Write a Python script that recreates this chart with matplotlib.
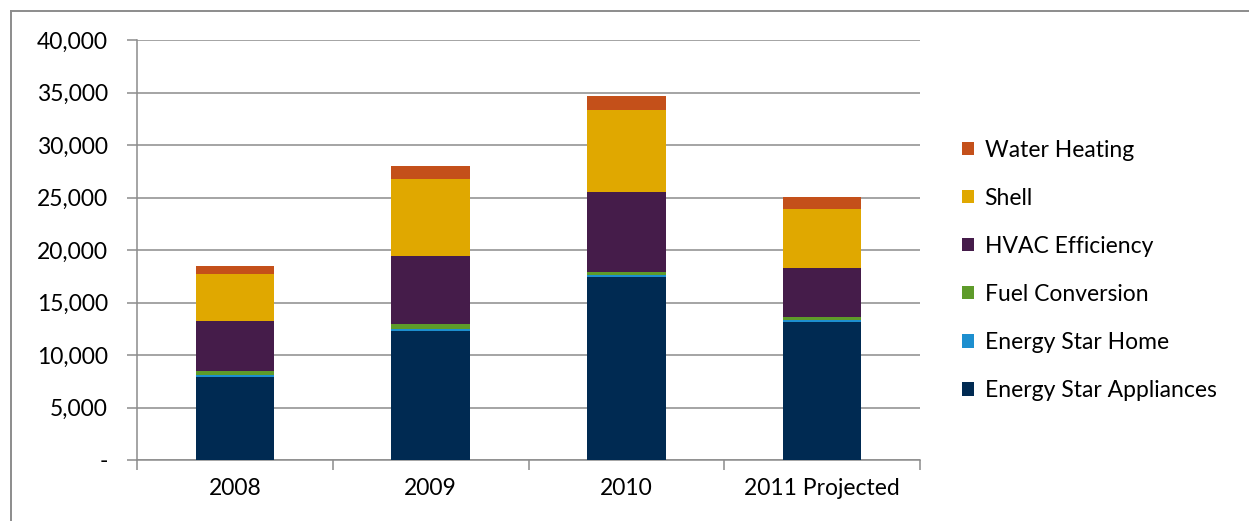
import matplotlib
matplotlib.use("Agg")
import matplotlib.pyplot as plt
import numpy as np
from matplotlib.lines import Line2D
from matplotlib.ticker import FuncFormatter, FixedLocator

plt.rcParams.update({
    "font.family": ["Lato", "DejaVu Sans"],
    "font.size": 16.5,
})

years = ["2008", "2009", "2010", "2011 Projected"]
appliances = [7900, 12300, 17400, 13150]
star_home = [200, 200, 200, 200]
fuel_conv = [400, 450, 300, 300]
hvac = [4750, 6480, 7620, 4640]
shell = [4450, 7330, 7810, 5610]
water = [800, 1240, 1340, 1150]

series = [
    ("Energy Star Appliances", appliances, "#002A52"),
    ("Energy Star Home", star_home, "#1D8FCF"),
    ("Fuel Conversion", fuel_conv, "#5E9B2A"),
    ("HVAC Efficiency", hvac, "#451C4A"),
    ("Shell", shell, "#E0A800"),
    ("Water Heating", water, "#C4501A"),
]

W, H = 1249, 521
fig = plt.figure(figsize=(W / 100, H / 100), dpi=100)
# chart frame: only the top and left edges fall inside the image
fig.lines.append(Line2D([10.5 / W, 10.5 / W], [0, 1 - 10.5 / H], transform=fig.transFigure,
                        color="#8C8C8C", linewidth=1.4))
fig.lines.append(Line2D([10.5 / W, 1], [1 - 10.5 / H, 1 - 10.5 / H], transform=fig.transFigure,
                        color="#8C8C8C", linewidth=1.4))

ax = fig.add_axes([137 / W, 61 / H, 783 / W, 420 / H])

x = np.arange(len(years))
bottom = np.zeros(len(years))
for name, vals, col in series:
    ax.bar(x, vals, 0.4, bottom=bottom, color=col, label=name, zorder=3)
    bottom += np.array(vals)

ax.set_xlim(-0.5, len(years) - 0.5)
ax.set_ylim(0, 40000)
ax.set_yticks(np.arange(0, 40001, 5000))
ax.yaxis.set_major_formatter(FuncFormatter(lambda v, p: "-" if v == 0 else f"{v:,.0f}"))
ax.grid(axis="y", color="#8C8C8C", linewidth=1.1, zorder=0)

ax.set_xticks(x)
ax.set_xticklabels(years)
ax.xaxis.set_minor_locator(FixedLocator(np.arange(-0.5, len(years), 1.0)))
ax.tick_params(axis="x", which="major", length=0, pad=13)
ax.tick_params(axis="x", which="minor", length=7, color="#8C8C8C", width=1.1)
ax.tick_params(axis="y", length=7, color="#8C8C8C", width=1.1, pad=14)

for s in ["top", "right"]:
    ax.spines[s].set_visible(False)
for s in ["left", "bottom"]:
    ax.spines[s].set_color("#8C8C8C")
    ax.spines[s].set_linewidth(1.1)

h, l = ax.get_legend_handles_labels()
ax.legend(h[::-1], l[::-1], loc="center left", bbox_to_anchor=(1.027, 0.452),
          frameon=False, handlelength=0.55, handleheight=0.55,
          handletextpad=0.45, labelspacing=1.18, fontsize=16.5)

fig.savefig("out.png", dpi=100)
